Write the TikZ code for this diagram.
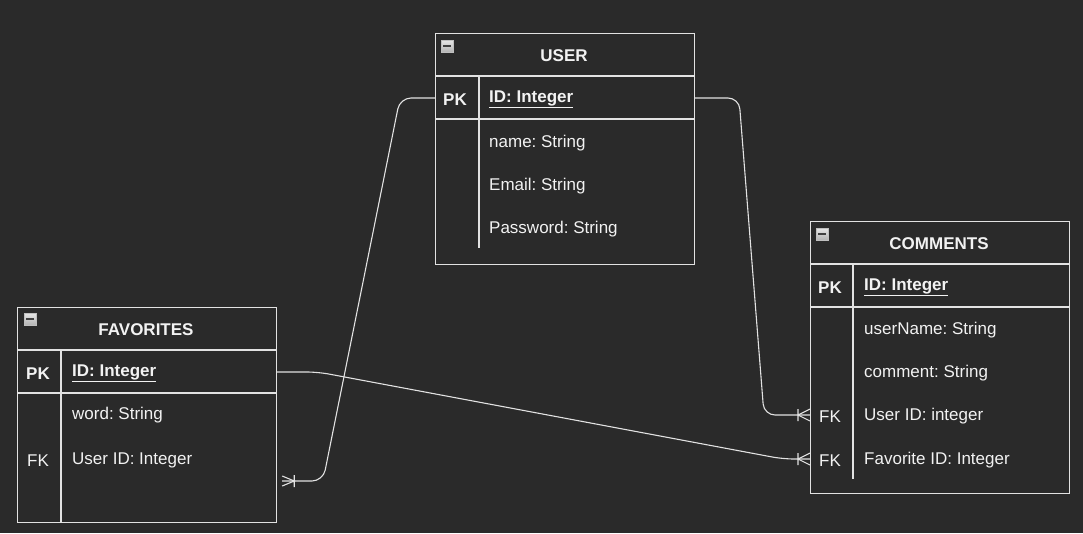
\documentclass[tikz,border=0pt]{standalone}
\usepackage{fontspec}
\setmainfont{Liberation Sans}
\usetikzlibrary{calc}
\definecolor{bg}{HTML}{2A2A2A}
\definecolor{ln}{HTML}{E2E2E2}
\definecolor{tx}{HTML}{F2F2F2}
\frenchspacing
\begin{document}
\begin{tikzpicture}[x=1pt,y=-1pt,
  frame/.style={draw=ln, line width=1.2pt, inner sep=0pt, anchor=north west},
  sep/.style={draw=ln, line width=1.2pt},
  hdr/.style={text=tx, font=\fontsize{17}{20}\selectfont\bfseries, inner sep=0pt, yshift=-1.5pt},
  key/.style={text=tx, font=\fontsize{17}{20}\selectfont, inner sep=0pt, yshift=-1.5pt},
  fld/.style={text=tx, font=\fontsize{17}{20}\selectfont, inner sep=0pt, anchor=west, yshift=-1.5pt},
  icon/.style={draw=gray!50, top color=gray!20, bottom color=gray!60, minimum size=12pt, inner sep=0pt, anchor=north west},
  conn/.style={draw=ln, line width=1.1pt, rounded corners=11pt},
  crow/.style={draw=ln, line width=1.1pt}
]
\useasboundingbox[fill=bg] (0,0) rectangle (1083,533);

% ---------- USER ----------
\node[frame, minimum width=259pt, minimum height=231pt] (user) at (435,33) {};
\node[icon] (uicon) at (441,40) {};
\draw[line width=2pt, black!75] ($(uicon.center)+(-4,0)$) -- ($(uicon.center)+(4,0)$);
\node[hdr] (uhdr) at (564,54) {USER};
\draw[sep] (435,76) -- (694,76);
\draw[sep] (435,119) -- (694,119);
\draw[sep] (479,76) -- (479,248);
\node[hdr] (upk) at (455,98) {PK};
\node[fld, font=\fontsize{17}{20}\selectfont\bfseries] (uid) at (489,98) {\underline{ID: Integer}};
\node[fld] (uname) at (489,142) {name: String};
\node[fld] (uemail) at (489,185) {Email: String};
\node[fld] (upass) at (489,228) {Password: String};

% ---------- COMMENTS ----------
\node[frame, minimum width=259pt, minimum height=272pt] (comm) at (810,221) {};
\node[icon] (cicon) at (816,228) {};
\draw[line width=2pt, black!75] ($(cicon.center)+(-4,0)$) -- ($(cicon.center)+(4,0)$);
\node[hdr] (chdr) at (939,242) {COMMENTS};
\draw[sep] (810,264) -- (1069,264);
\draw[sep] (810,307) -- (1069,307);
\draw[sep] (853,264) -- (853,479);
\node[hdr] (cpk) at (830,286) {PK};
\node[fld, font=\fontsize{17}{20}\selectfont\bfseries] (cid) at (864,286) {\underline{ID: Integer}};
\node[fld] (cuser) at (864,329) {userName: String};
\node[fld] (ccom) at (864,372) {comment: String};
\node[key] (cfk1) at (830,415) {FK};
\node[fld] (cuid) at (864,415) {User ID: integer};
\node[key] (cfk2) at (830,459) {FK};
\node[fld] (cfid) at (864,459) {Favorite ID: Integer};

% ---------- FAVORITES ----------
\node[frame, minimum width=259pt, minimum height=215pt] (fav) at (17,307) {};
\node[icon] (ficon) at (24,313) {};
\draw[line width=2pt, black!75] ($(ficon.center)+(-4,0)$) -- ($(ficon.center)+(4,0)$);
\node[hdr] (fhdr) at (146,328) {FAVORITES};
\draw[sep] (17,350) -- (276,350);
\draw[sep] (17,393) -- (276,393);
\draw[sep] (61,350) -- (61,522);
\node[hdr] (fpk) at (38,372) {PK};
\node[fld, font=\fontsize{17}{20}\selectfont\bfseries] (fid) at (72,372) {\underline{ID: Integer}};
\node[fld] (fword) at (72,414) {word: String};
\node[key] (ffk) at (38,459) {FK};
\node[fld] (fuid) at (72,459) {User ID: Integer};

% ---------- connectors ----------
\coordinate (fend) at ($(fav.east |- 0,481)+(5,0)$);
% USER.ID -> FAVORITES (many)
\draw[conn] (user.west |- 0,98) -- (400,98) -- (323,481) -- (fend);
\draw[crow] ($(fend)+(0,-5)$) -- ($(fend)+(12,0)$) -- ($(fend)+(0,5)$)
            ($(fend)+(12,-6)$) -- ($(fend)+(12,6)$);
% USER.ID -> COMMENTS.UserID
\coordinate (c1end) at (comm.west |- 0,415);
\draw[conn] (user.east |- 0,98) -- (739,98) -- (764,415) -- (c1end);
\draw[crow] ($(c1end)+(0,-6)$) -- ($(c1end)+(-12,0)$) -- ($(c1end)+(0,6)$)
            ($(c1end)+(-12,-6)$) -- ($(c1end)+(-12,6)$);
% FAVORITES.ID -> COMMENTS.FavoriteID
\coordinate (c2end) at (comm.west |- 0,459);
\draw[conn] (fav.east |- 0,372) -- (318,372) -- (783,459) -- (c2end);
\draw[crow] ($(c2end)+(0,-6)$) -- ($(c2end)+(-12,0)$) -- ($(c2end)+(0,6)$)
            ($(c2end)+(-12,-6)$) -- ($(c2end)+(-12,6)$);
\end{tikzpicture}
\end{document}
